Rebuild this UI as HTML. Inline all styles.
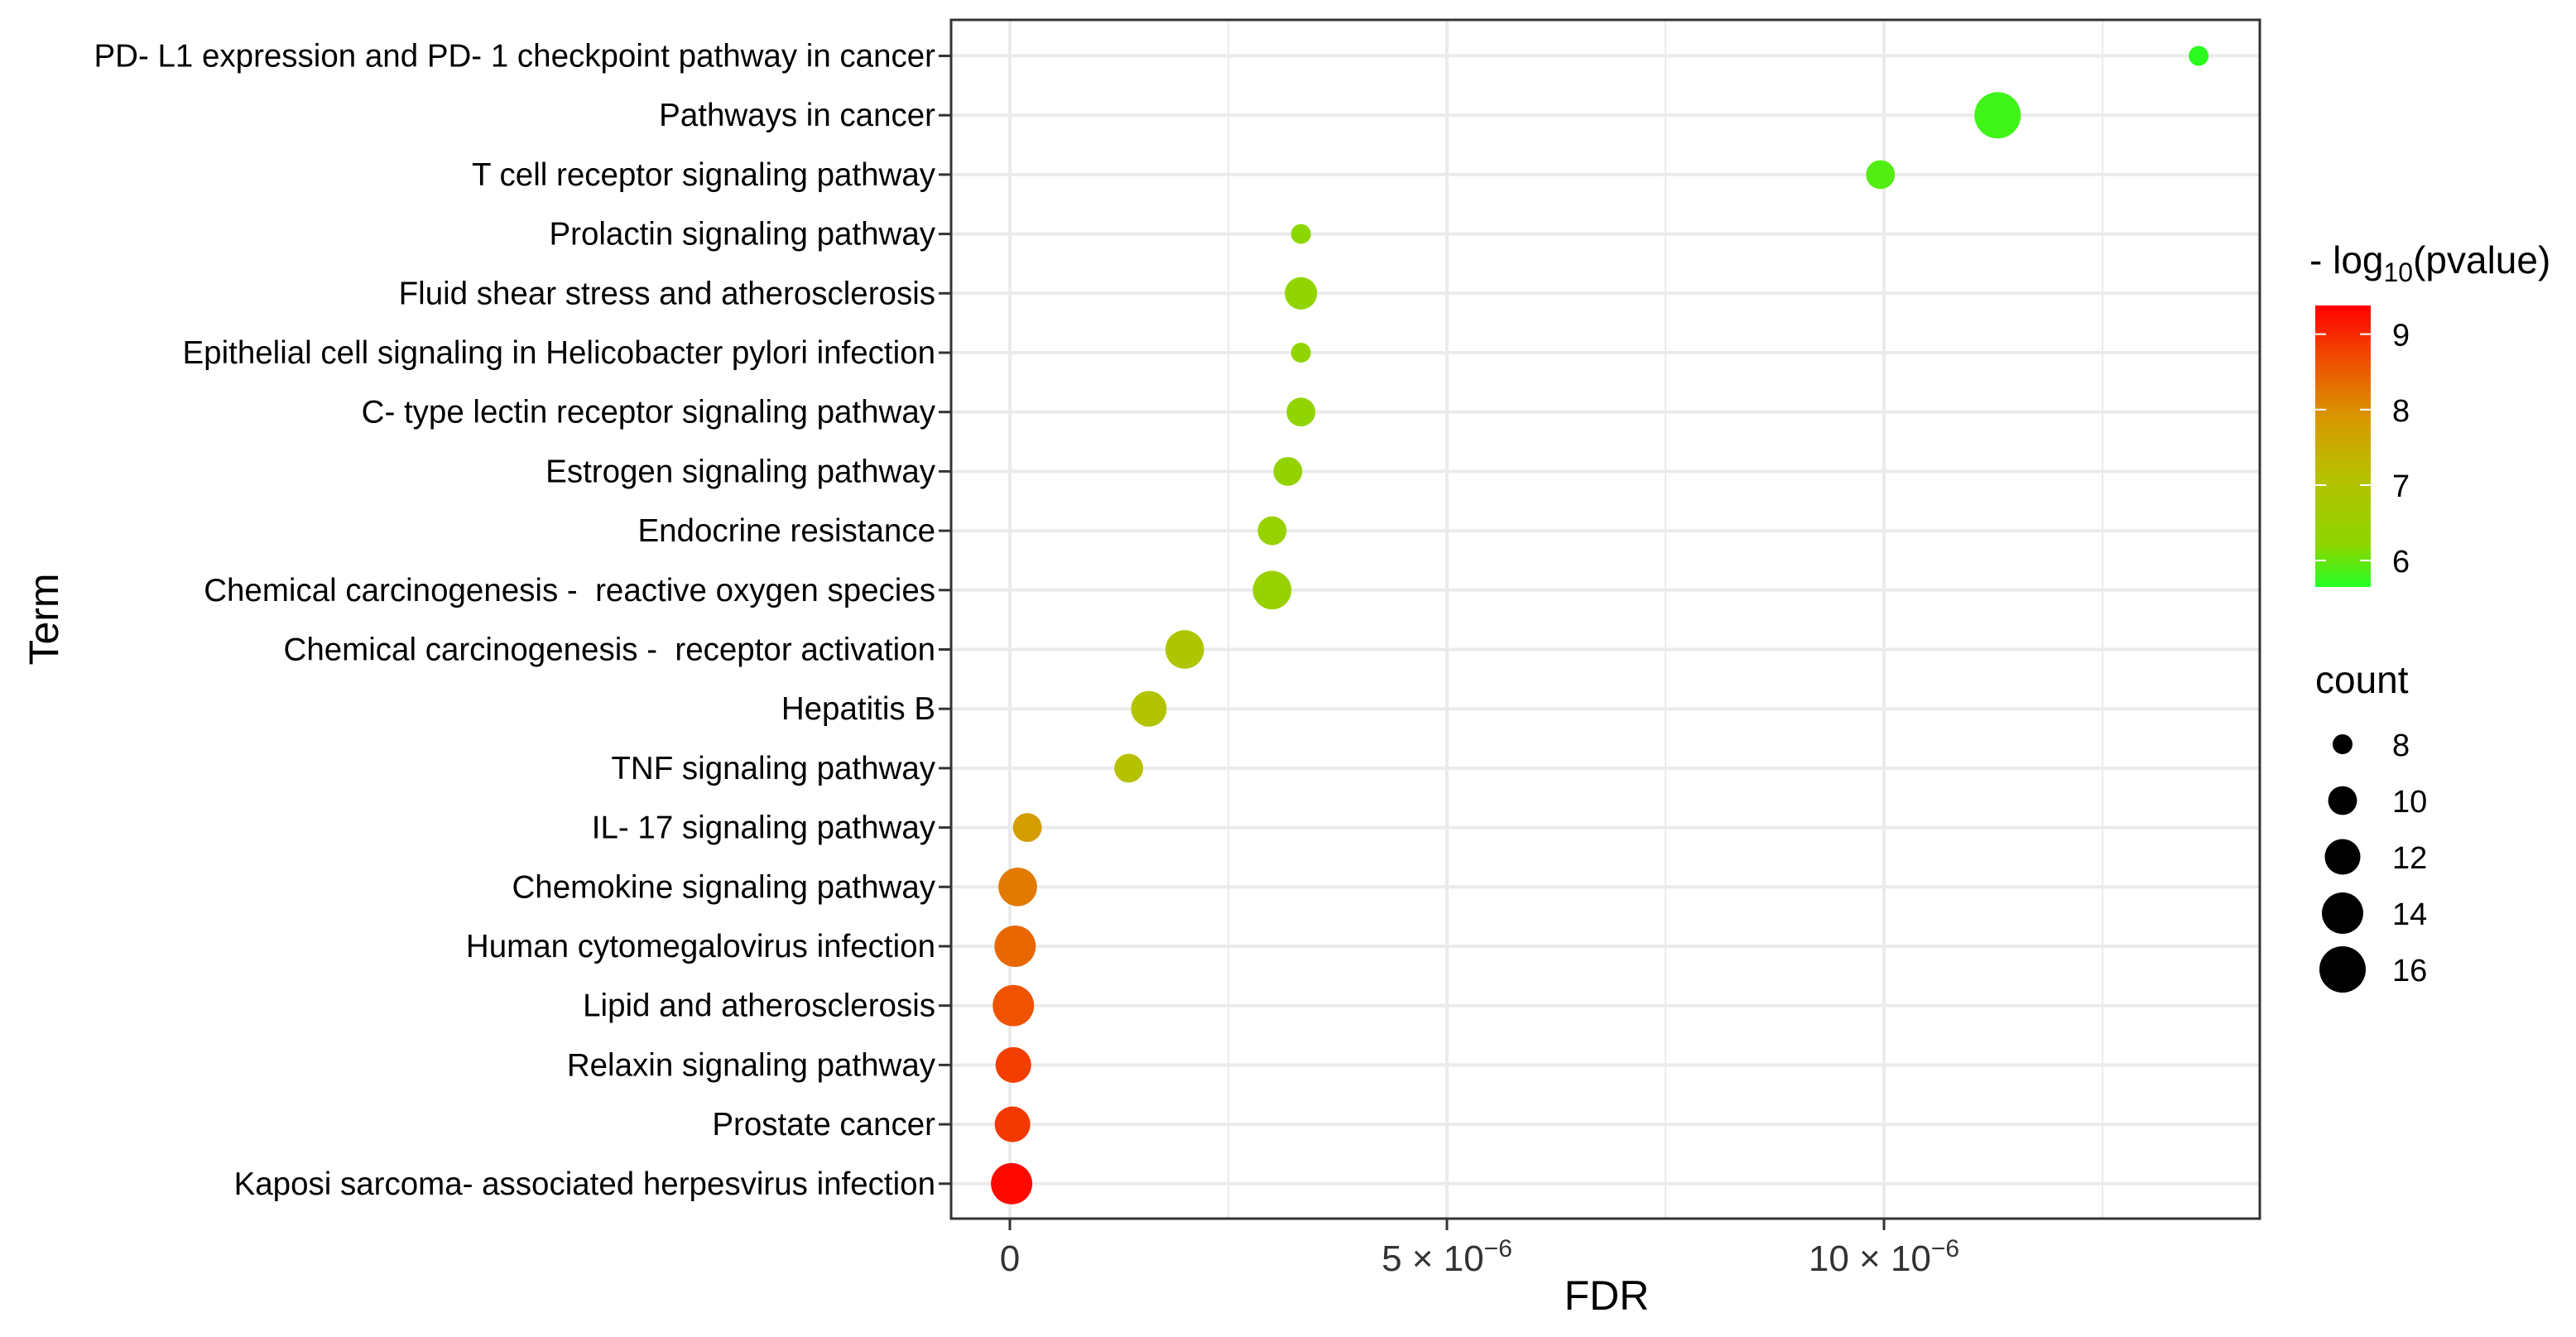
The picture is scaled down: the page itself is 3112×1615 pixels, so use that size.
<!DOCTYPE html>
<html><head><meta charset="utf-8"><style>
html,body{margin:0;padding:0;background:#fff;}
svg{display:block;font-family:"Liberation Sans",Arial,sans-serif;}
text{white-space:pre;}
</style></head><body>
<svg id="chart" width="3112" height="1615" viewBox="0 0 3112 1615" xmlns="http://www.w3.org/2000/svg">
<rect width="3112" height="1615" fill="#fff"/>
<g id="grid"></g>
<g id="points"></g>
<rect x="1149" y="24" width="1581" height="1448" fill="none" stroke="#333" stroke-width="3"/>
<g id="yaxis"></g>
<g id="xaxis"></g>
<text transform="translate(70,748) rotate(-90)" text-anchor="middle" font-size="50" fill="#000">Term</text>
<text x="1941" y="1582" text-anchor="middle" font-size="50" fill="#000">FDR</text>
<g id="legend">
<text x="2790" y="330" font-size="46" fill="#000">- log<tspan font-size="32" dy="10">10</tspan><tspan dy="-10">(pvalue)</tspan></text>
<defs><linearGradient id="cg" x1="0" y1="1" x2="0" y2="0">
<stop offset="0" stop-color="#22ff22"/><stop offset="0.15" stop-color="#8ed600"/><stop offset="0.4" stop-color="#b8c000"/><stop offset="0.6" stop-color="#d89800"/><stop offset="0.8" stop-color="#f05000"/><stop offset="1" stop-color="#ff0000"/></linearGradient></defs>
<rect x="2797" y="369" width="67" height="340" fill="url(#cg)"/>
<g id="cticks"></g>
<text x="2797" y="837" font-size="46" fill="#000">count</text>
<g id="sizeleg"></g>
</g>
</svg>
<script>
const terms = ["PD- L1 expression and PD- 1 checkpoint pathway in cancer","Pathways in cancer","T cell receptor signaling pathway","Prolactin signaling pathway","Fluid shear stress and atherosclerosis","Epithelial cell signaling in Helicobacter pylori infection","C- type lectin receptor signaling pathway","Estrogen signaling pathway","Endocrine resistance","Chemical carcinogenesis -  reactive oxygen species","Chemical carcinogenesis -  receptor activation","Hepatitis B","TNF signaling pathway","IL- 17 signaling pathway","Chemokine signaling pathway","Human cytomegalovirus infection","Lipid and atherosclerosis","Relaxin signaling pathway","Prostate cancer","Kaposi sarcoma- associated herpesvirus infection"];
const fdr = [13.6,11.3,9.96,3.33,3.33,3.33,3.33,3.18,3.0,3.0,2.0,1.59,1.36,0.2,0.09,0.06,0.04,0.04,0.03,0.02]; // x 1e-6
const counts = [8,16,10,8,11,8,10,10,10,13,13,12,10,10,13,14,14,12,12,14];
const logp = [5.7,5.8,5.9,6.2,6.3,6.3,6.3,6.35,6.4,6.45,6.9,7.0,7.1,7.8,8.2,8.4,8.6,8.8,8.85,9.3];
const xTicks = [0,5,10];
const xTickLabels = ["0","5 × 10","10 × 10"];
const colorTicks = [6,7,8,9];
const sizeBreaks = [8,10,12,14,16];

const NS="http://www.w3.org/2000/svg";
function mk(tag,attrs,parent){const e=document.createElementNS(NS,tag);for(const k in attrs)e.setAttribute(k,attrs[k]);parent.appendChild(e);return e;}
const x0=1220, xUnit=105.6;
const X=v=>x0+v*xUnit;
const Y=i=>67.5+i*71.7;
const R=c=>Math.sqrt(Math.max(144+(c-8)*80,20));
const cmin=5.65,cmax=9.38;
const stops=[[0,[34,255,34]],[0.15,[142,214,0]],[0.4,[184,192,0]],[0.6,[216,152,0]],[0.8,[240,80,0]],[1,[255,0,0]]];
function col(v){let t=Math.min(1,Math.max(0,(v-cmin)/(cmax-cmin)));for(let i=0;i<stops.length-1;i++){const a=stops[i],b=stops[i+1];if(t<=b[0]){const f=(t-a[0])/(b[0]-a[0]);return "rgb("+a[1].map((c,j)=>Math.round(c+(b[1][j]-c)*f)).join(",")+")";}}return "rgb(255,0,0)";}
const CY=v=>369+(cmax-v)*(340/(cmax-cmin));

const grid=document.getElementById('grid');
[2.5,7.5,12.5].forEach(v=>{const l=mk('line',{x1:X(v),x2:X(v),y1:24,y2:1472,stroke:'#ebebeb','stroke-width':2},grid);

});
xTicks.forEach(v=>{const l=mk('line',{x1:X(v),x2:X(v),y1:24,y2:1472,stroke:'#ebebeb','stroke-width':4},grid);

});
terms.forEach((t,i)=>{const l=mk('line',{x1:1149,x2:2730,y1:Y(i),y2:Y(i),stroke:'#ebebeb','stroke-width':4},grid);

});

const ya=document.getElementById('yaxis');
terms.forEach((t,i)=>{
 const tk=mk('line',{x1:1134,x2:1149,y1:Y(i),y2:Y(i),stroke:'#333','stroke-width':3},ya);
 
 
 const tx=mk('text',{x:1130,y:Y(i)+13,'text-anchor':'end','font-size':38.5,fill:'#000'},ya);
 tx.textContent=t;
 
 
});
const xa=document.getElementById('xaxis');
xTicks.forEach((v,i)=>{
 const tk=mk('line',{x1:X(v),x2:X(v),y1:1472,y2:1486,stroke:'#333','stroke-width':3},xa);
 
 
 const tx=mk('text',{x:X(v),y:1535,'text-anchor':'middle','font-size':44,fill:'#333'},xa);
 tx.textContent=xTickLabels[i];
 if(v!==0){const s=mk('tspan',{'font-size':30,dy:-17},tx);s.textContent='−6';}
 
 
});

const pts=document.getElementById('points');
terms.forEach((t,i)=>{
 const c=mk('circle',{cx:X(fdr[i]),cy:Y(i),r:R(counts[i]),fill:col(logp[i])},pts);
 
 
});

const ct=document.getElementById('cticks');
colorTicks.forEach(v=>{
 mk('line',{x1:2797,x2:2810,y1:CY(v),y2:CY(v),stroke:'#fff','stroke-width':2},ct);
 mk('line',{x1:2851,x2:2864,y1:CY(v),y2:CY(v),stroke:'#fff','stroke-width':2},ct);
 const tx=mk('text',{x:2890,y:CY(v)+14,'font-size':38,fill:'#000'},ct);
 tx.textContent=v;
 
 
});
const sl=document.getElementById('sizeleg');
sizeBreaks.forEach((c,i)=>{
 const y=899+i*68;
 const d=mk('circle',{cx:2830,cy:y,r:R(c),fill:'#000'},sl);
 
 
 const tx=mk('text',{x:2890,y:y+14,'font-size':38,fill:'#000'},sl);
 tx.textContent=c;
 
 
});
</script>
</body></html>
